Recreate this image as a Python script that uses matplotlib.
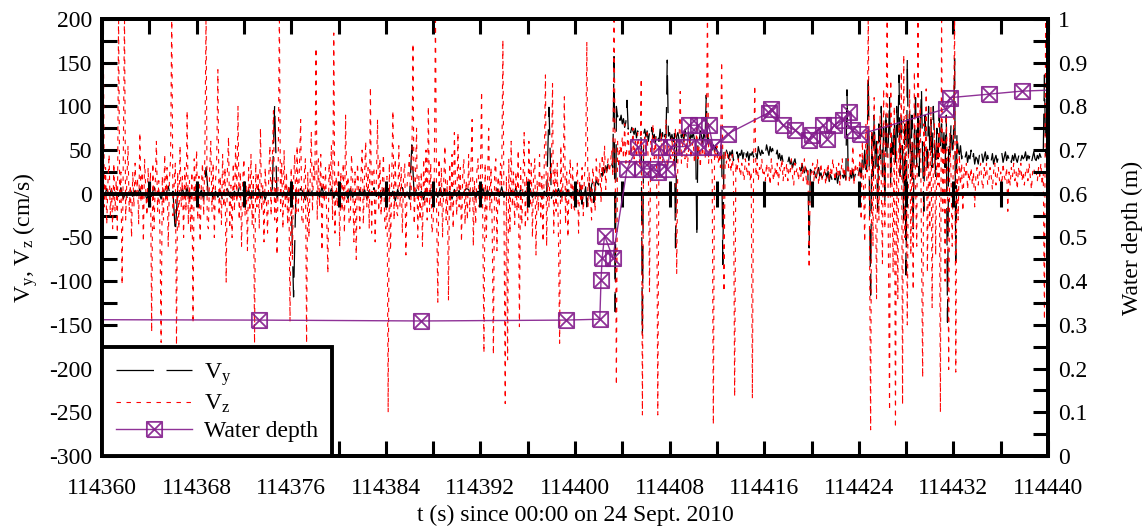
import numpy as np
import matplotlib
matplotlib.use("Agg")
import matplotlib.pyplot as plt
from matplotlib.path import Path
from matplotlib.ticker import MultipleLocator, FuncFormatter

# ---- datos ----
t0 = 114360.0

# Vz (cm/s), 10 muestras por segundo, una fila por segundo, 0-40 s
vz_calm = [
    20, 210, -15, 30, -35, 12, 45, -25, 8, -40,
    35, -20, 15, -45, 210, -10, 25, -104, 40, 210,
    -30, 15, 55, -20, 10, -50, 25, -15, 35, -5,
    18, -35, 70, -10, 25, -55, 40, 5, -25, 30,
    -15, 25, -158, 35, -40, 10, 60, -20, 15, -45,
    -170, 20, -30, 45, -10, 30, -60, 15, 40, 210,
    -25, 10, 35, -173, 25, -40, 55, -15, 20, -50,
    30, -20, 95, -35, 15, -45, 25, -148, 40, -10,
    50, -30, 20, -55, 10, 35, -25, 45, 210, -35,
    -40, 25, 60, -20, 35, -50, 15, 40, 142, -25,
    20, -35, 45, -15, 30, -101, 25, 65, -40, 10,
    -50, 35, -20, 55, -10, 100, -30, 25, -60, 15,
    40, -25, 10, -65, 30, -20, 45, -35, 20, -171,
    35, -15, 25, -40, 75, -20, 10, -55, 30, -5,
    -45, 20, 55, -25, 35, 95, -30, 15, -70, 25,
    210, -20, 35, -40, 50, -15, 25, -35, 10, -146,
    30, -75, 15, 45, -25, 55, -20, 35, 85, -30,
    -35, 20, 40, -171, 25, -50, 15, 70, -20, 35,
    15, 167, -30, 40, -15, 45, -65, 20, -10, 30,
    -25, -91, 35, 10, 55, -30, 184, -45, 20, -15,
    40, -60, 25, -20, 35, -45, 90, -10, 20, -35,
    -30, 45, 15, -55, 25, -75, 35, 10, -40, 20,
    50, -35, 20, 60, -15, 30, -40, 122, -45, 25,
    30, -55, 15, 85, -20, 40, -25, 10, 45, -30,
    -40, 20, -250, 35, -65, 15, 95, -30, 40, -20,
    -25, 55, -15, 30, -45, 20, 35, -70, 10, 25,
    45, -20, 30, 172, -35, 15, 75, -50, 20, -30,
    25, -60, 40, -15, 50, -30, 100, -20, 35, -45,
    -35, 20, 210, -25, -124, 40, -15, 30, -50, 15,
    55, -30, 15, -122, 35, -20, 45, -40, 70, 10,
    -25, 70, -15, 30, -55, 20, 40, -35, 15, -30,
    45, -20, 30, 85, -60, 15, -35, 25, 40, -15,
    20, 117, -30, -182, 35, -50, 15, 75, -20, 30,
    -40, -184, 25, 40, -65, 20, -15, 35, 10, 176,
    -30, -240, 20, -190, 40, -45, 60, -15, 25, -35,
    25, -20, 50, -152, 30, -35, 15, 70, -40, 20,
    -30, 60, -15, 35, -50, 25, 40, -70, 15, -20,
    45, -30, 20, -55, 35, 136, -60, 25, -15, 30,
    15, 126, -45, 30, -20, 35, -50, -171, 55, -10,
    20, 111, -35, 25, -50, 15, 40, -20, 30, -15,
]

# Vz (cm/s), 40-80 s
vz_flood = [
    -20, 10, 35, -45, 15, -10, 30, -25, 20, 40,
    174, -15, 25, 5, -30, 30, 15, -20, 40, 10,
    15, 35, -10, 45, 20, 55, 5, 30, 40, 25,
    35, 50, 20, 210, 40, -219, 60, 30, 55, 45,
    65, 40, 80, 35, 55, 70, 30, 60, 45, 75,
    40, 60, 35, 70, 50, 30, 132, -253, 55, 65,
    45, 70, 35, -112, 60, 50, 80, 40, 65, 30,
    -253, 55, 40, 70, 35, 60, 45, 85, 30, 55,
    50, 40, 65, 30, 55, 75, -91, 45, 60, 117,
    35, 55, 70, 40, 60, 30, 50, 65, 40, 55,
    60, 35, 50, 75, 40, 55, 30, 65, 45, 50,
    40, 55, 210, 35, 60, 45, 30, -264, 50, 40,
    55, 35, 45, 30, 151, 40, -112, 50, 35, 45,
    30, 40, 25, 45, 20, -232, 35, 25, 40, 30,
    20, 35, 25, 15, 40, 30, 20, 35, 15, 25,
    -234, 30, 124, 20, 35, 15, 30, 25, 40, 20,
    25, 15, 35, 20, 30, 10, 40, 25, 15, 30,
    20, 35, 10, 30, 25, 40, 15, 30, 20, 35,
    15, 30, 25, 40, 20, 10, 35, 25, 30, 15,
    30, 20, 35, 15, 40, 25, 10, 30, -85, 20,
    25, 35, 15, 30, 20, 40, 10, 25, 35, 15,
    20, 30, 10, 25, 35, 15, 30, 20, 40, 25,
    15, 30, 20, 35, 10, 25, 40, 20, 30, 15,
    25, 40, 15, 30, 20, 55, 10, 35, 25, 30,
    20, 45, -30, 60, 10, -55, 80, 25, 210, -40,
    -270, 70, -60, 110, 20, -120, 60, -30, 90, 15,
    -80, 120, -40, 75, 210, -60, -248, 130, 20, -90,
    100, -268, 50, -120, 80, 20, 140, -241, 159, -50,
    90, -150, 40, 120, -70, 60, -110, 140, 10, -60,
    210, 40, 100, -60, -210, 80, 20, 120, -90, 50,
    -40, 100, -130, 30, 80, -70, 60, 10, 90, -250,
    210, -20, 60, -100, 90, 30, -201, 70, 20, -60,
    50, 210, -204, 60, -30, 45, 10, 35, -20, 30,
    20, 35, 5, 25, 15, 30, 10, 25, -15, 20,
    30, 10, 25, 35, 15, 5, 30, 20, 35, 10,
    15, 30, 20, 5, 25, 35, 10, 20, 30, 15,
    25, 10, 35, 20, 15, 30, -20, 25, 10, 30,
    20, 35, 15, 25, 5, 30, 20, 35, 15, 25,
    10, 25, 30, 15, 35, 20, 5, 25, 30, 20,
    25, 15, 30, 20, 35, 10, 25, -144, 210, 20,
]

# Vy (cm/s), 5 muestras por segundo, 0-40 s (casi todo tapado por el eje cero)
vy_calm = [
    3, -4, 6, -2, 5,     -5, 4, -3, 7, -6,
    2, -8, 5, -3, 4,     -2, 6, -5, 3, -7,
    5, -3, 8, -4, 2,     -6, 4, -2, 9, -5,
    3, -45, 5, -3, 6,    -4, 7, -6, 2, -3,
    6, -2, 4, -7, 30,    -3, 5, -6, 3, -4,
    4, -8, 2, 6, -3,     -5, 3, -4, 7, -2,
    6, -3, 5, -6, 4,     -2, 8, -5, 3, -7,
    4, -3, 6, 102, -5,   3, -6, 2, -4, 7,
    -5, -118, 4, -3, 6,  2, -7, 5, -2, 4,
    -6, 3, -4, 8, -3,    5, -2, 6, -5, 3,
    -4, 7, -3, 2, -6,    6, -4, 3, -7, 5,
    -2, 5, -6, 4, -3,    7, -3, 2, -5, 6,
    -4, 6, -2, 3, -8,    5, -3, 7, -4, 2,
    -6, 56, -3, 5, -4,   3, -7, 6, -2, 4,
    -5, 2, -4, 7, -3,    6, -5, 3, -6, 5,
    -3, 4, -7, 2, 6,     5, -2, 4, -5, 3,
    -6, 7, -3, 5, -4,    2, -5, 6, -3, 8,
    -4, 3, -6, 4, -2,    7, -3, 5, -7, 3,
    -2, 6, -4, 2, -5,    4, -6, 3, -3, 99,
    -5, 4, -2, 6, -4,    3, -7, 5, -3, 2,
]

# Vy (cm/s), 10 muestras por segundo, 40-80 s
vy_flood = [
    2, -3, 5, -8, 4, 10, -12, 6, 0, 8,
    -15, 5, 12, -6, 10, 14, -10, 8, 16, 12,
    10, 18, 25, 20, 30, 24, 32, 26, 35, 30,
    28, 34, 30, 157, -135, 100, 88, 95, 84, 90,
    80, 86, 76, 82, 107, 74, 80, 70, 76, 72,
    68, 75, 64, 72, 66, 70, 62, -162, 68, 74,
    65, 72, 60, 70, 64, 76, 62, 68, 58, 72,
    66, 60, 74, 62, 70, 58, 68, 64, 153, 66,
    70, 62, 68, 60, 74, -62, 66, 70, 62, 72,
    64, 70, 60, 74, 66, 62, 72, 58, 68, 64,
    70, 62, 68, -50, 64, 60, 72, 66, 58, 70,
    62, 113, 58, 64, 52, 58, 50, 56, 48, 54,
    50, 44, 52, 46, 54, -81, 48, 42, 50, 46,
    40, 48, 44, 50, 38, 46, 42, 48, 40, 46,
    44, 50, 40, 48, 54, 42, 48, 38, 46, 44,
    48, 42, 52, 46, 40, 54, 48, 44, 50, 46,
    52, 46, 56, 50, 44, 54, 48, 52, 46, 50,
    44, 50, 40, 46, 38, 44, 36, 42, 40, 38,
    36, 42, 34, 38, 30, 36, 40, 32, 34, 30,
    32, 26, 34, 28, 24, 30, 26, 22, -62, 28,
    26, 20, 28, 22, 18, 26, 30, 20, 24, 18,
    22, 16, 24, 18, 26, 14, 22, 18, 12, 20,
    16, 24, 12, 20, 26, 14, 22, 18, 24, 16,
    119, 20, 14, 24, 18, 28, 16, 22, 26, 18,
    24, 30, 18, 40, 28, 50, 20, 35, 136, 15,
    -116, 70, 20, 90, 30, 60, -20, 80, 40, 100,
    20, 75, -10, 95, 40, 60, 110, 10, 70, 45,
    85, 30, 100, 60, 136, 20, 90, 50, -30, 80,
    -93, 155, 40, 100, 20, 90, -40, 70, 110, 30,
    95, 20, 80, 120, 40, -20, 90, 60, 30, 100,
    50, 85, 30, 100, 60, 20, 75, 40, 90, 55,
    80, 40, 70, 30, 90, -147, 60, 45, 80, 50,
    60, 155, -78, 70, 50, 45, 55, 40, 50, 45,
    42, 48, 36, 44, 40, 50, 38, 46, 34, 42,
    40, 34, 44, 38, 46, 36, 42, 48, 38, 44,
    36, 42, 38, 46, 34, 40, 44, 36, 42, 38,
    40, 46, 36, 42, 48, 38, 44, 40, 46, 36,
    44, 38, 46, 40, 36, 42, 48, 38, 44, 40,
    42, 48, 38, 44, 40, 46, 36, 42, 48, 40,
    38, 44, 40, 46, 42, 38, 48, 136, 44, 42,
]

# profundidad del agua (m)
t_depth = [114358.0, 114373.3, 114387.0, 114399.2, 114402.1, 114402.2,
           114402.3, 114402.5, 114403.2, 114404.4, 114405.3, 114405.7,
           114406.4, 114407.0, 114407.1, 114407.8, 114408.1, 114409.5,
           114409.6, 114410.4, 114410.8, 114411.3, 114411.7, 114412.9,
           114416.4, 114416.6, 114417.6, 114418.6, 114419.8, 114420.0,
           114421.0, 114421.3, 114421.9, 114422.7, 114423.2, 114423.4,
           114424.1, 114431.4, 114431.7, 114435.0, 114437.8, 114441.0]
depth = [0.312, 0.311, 0.309, 0.311, 0.313, 0.403,
         0.454, 0.504, 0.454, 0.657, 0.708, 0.657,
         0.657, 0.651, 0.708, 0.657, 0.708, 0.708,
         0.757, 0.757, 0.708, 0.757, 0.706, 0.737,
         0.786, 0.794, 0.757, 0.746, 0.723, 0.735,
         0.757, 0.725, 0.757, 0.769, 0.788, 0.746,
         0.736, 0.795, 0.820, 0.828, 0.835, 0.838]

vz = np.array(vz_calm + vz_flood, dtype=float)
t_vz = t0 + 0.1 * np.arange(len(vz))
vy = np.array(vy_calm + vy_flood, dtype=float)
t_vy = np.concatenate([t0 + 0.2 * np.arange(len(vy_calm)),
                       t0 + 40 + 0.1 * np.arange(len(vy_flood))])

# marcador: cuadrado con una X adentro
caja_x = Path([(-1, -1), (1, -1), (1, 1), (-1, 1), (-1, -1),
               (-1, -1), (1, 1), (-1, 1), (1, -1)],
              [Path.MOVETO, Path.LINETO, Path.LINETO, Path.LINETO, Path.LINETO,
               Path.MOVETO, Path.LINETO, Path.MOVETO, Path.LINETO])

violeta = '#831c8c'

plt.rcParams['font.family'] = ['Liberation Serif', 'DejaVu Serif']
plt.rcParams['font.size'] = 17
plt.rcParams['mathtext.default'] = 'regular'
plt.rcParams['axes.unicode_minus'] = False

fig = plt.figure(figsize=(11.48, 5.26), dpi=100)
ax = fig.add_axes([102/1148, 70/526, 946/1148, 437/526])
ax2 = ax.twinx()

l_vy, = ax.plot(t_vy, vy, color='black', lw=0.9, dashes=(30, 10))
l_vz, = ax.plot(t_vz, vz, color='red', lw=0.8, dashes=(4, 5))
l_h, = ax2.plot(t_depth, depth, color=violeta, lw=1.0, marker=caja_x,
                markersize=11, markerfacecolor='none', markeredgewidth=1.3,
                alpha=0.9)

# eje cero con sus marcas
ax.axhline(0, color='black', lw=2.8, zorder=6)
ax.vlines(np.arange(114364, 114440, 4), -15, 15, color='black', lw=2.2, zorder=6)

ax.set_xlim(114360, 114440)
ax.set_ylim(-300, 200)
ax2.set_ylim(0, 1)

ax.xaxis.set_major_locator(MultipleLocator(8))
ax.xaxis.set_minor_locator(MultipleLocator(4))
ax.xaxis.set_major_formatter(FuncFormatter(lambda v, p: '%d' % round(v)))
ax.yaxis.set_major_locator(MultipleLocator(50))
ax.yaxis.set_minor_locator(MultipleLocator(25))
ax2.yaxis.set_major_locator(MultipleLocator(0.1))
ax2.yaxis.set_minor_locator(MultipleLocator(0.05))
ax2.yaxis.set_major_formatter(FuncFormatter(lambda v, p: '%g' % round(v, 2)))

for a in (ax, ax2):
    a.tick_params(which='both', direction='in', length=11, width=2.2)
    for s in a.spines.values():
        s.set_linewidth(2.8)
ax.tick_params(which='both', top=True, right=False)
ax.tick_params(axis='x', pad=16)
ax.tick_params(axis='y', pad=7)
ax2.tick_params(axis='y', pad=7)

ax.set_xlabel('t (s) since 00:00 on 24 Sept. 2010')
ax.xaxis.set_label_coords(0.5, -0.112)
ax.set_ylabel('$V_y$, $V_z$ (cm/s)')
ax.yaxis.set_label_coords(-0.066, 0.5)
ax2.set_ylabel('Water depth (m)')
ax2.yaxis.set_label_coords(1.078, 0.5)

leg = ax2.legend([l_vy, l_vz, l_h], ['$V_y$', '$V_z$', 'Water depth'],
                 loc='lower left', bbox_to_anchor=(0, 0), borderaxespad=0,
                 fancybox=False, framealpha=1, edgecolor='black',
                 handlelength=3.2, handletextpad=0.5, labelspacing=0.22,
                 borderpad=0.6, numpoints=1)
leg.get_frame().set_linewidth(2.8)
leg.set_zorder(10)

fig.savefig('out.png', dpi=100)
